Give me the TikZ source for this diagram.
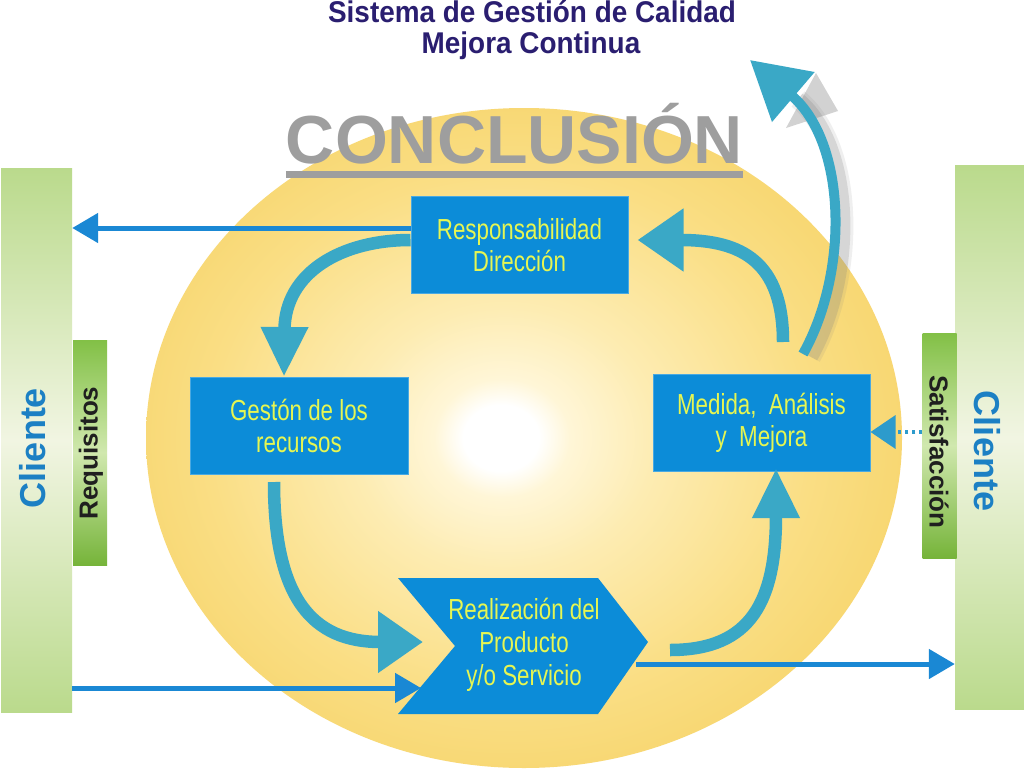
\documentclass[tikz,border=0pt]{standalone}
\usepackage{fontspec}
\setmainfont{Liberation Sans}
\newfontfamily\narrowfont[FakeStretch=0.77]{Liberation Sans}
\newfontfamily\titlefont[FakeStretch=0.93]{Liberation Sans}
\usetikzlibrary{arrows.meta,calc}

\definecolor{boxblue}{RGB}{12,140,216}
\definecolor{txtyellow}{RGB}{230,246,82}
\definecolor{arrteal}{RGB}{58,168,198}
\definecolor{lineblue}{RGB}{26,136,212}
\definecolor{titlenavy}{RGB}{42,30,112}
\definecolor{concgray}{RGB}{158,158,158}
\definecolor{gA}{RGB}{186,218,140}
\definecolor{gB}{RGB}{241,245,226}
\definecolor{rA}{RGB}{130,192,70}
\definecolor{rA2}{RGB}{118,180,58}
\definecolor{rB}{RGB}{208,232,174}
\definecolor{clienteblue}{RGB}{28,128,196}
\definecolor{yA}{RGB}{255,246,215}
\definecolor{yB}{RGB}{253,236,178}
\definecolor{yC}{RGB}{250,222,132}
\definecolor{yD}{RGB}{245,208,96}
\definecolor{yE}{RGB}{240,198,76}
\definecolor{yF}{RGB}{236,190,62}

\pgfdeclareradialshading{sunglow}{\pgfpoint{-1.6bp}{0bp}}{%
  color(0bp)=(white); color(2.5bp)=(white); color(4.5bp)=(yA);
  color(10bp)=(yB); color(20bp)=(yC); color(32bp)=(yD); color(42bp)=(yE); color(50bp)=(yF)}

\tikzset{
  bluebox/.style={fill=boxblue, draw=boxblue!75!white, line width=1pt,
    text=txtyellow, font=\narrowfont\fontsize{29}{32}\selectfont,
    align=center, inner sep=0pt, minimum width=217pt, minimum height=97pt},
  chevtext/.style={text=txtyellow, font=\narrowfont\fontsize{29}{33}\selectfont,
    align=center, inner sep=0pt},
  tealarrow/.style={draw=arrteal, line width=12.5pt},
  bluearrow/.style={draw=lineblue, line width=5pt,
    -{Triangle[length=26pt,width=29pt]}},
  dotarrow/.style={draw=arrteal!60!lineblue, line width=3.5pt, dash pattern=on 3pt off 4pt,
    -{Triangle[length=25pt,width=33pt]}},
  bigbar/.style={minimum width=71pt, minimum height=544pt, inner sep=0pt,
    top color=gA, bottom color=gA, middle color=gB},
  smallbar/.style={minimum width=34pt, minimum height=225pt, inner sep=0pt,
    top color=rA, bottom color=rA2, middle color=rB},
  clitext/.style={text=clienteblue, font=\bfseries\fontsize{36}{36}\selectfont, inner sep=0pt},
  bartext/.style={text=black!88, font=\bfseries\fontsize{26}{26}\selectfont, inner sep=0pt},
  titletext/.style={anchor=base, text=titlenavy, font=\titlefont\bfseries\fontsize{30}{30}\selectfont, inner sep=0pt},
}

\begin{document}
\begin{tikzpicture}[x=1pt, y=-1pt]
\useasboundingbox (0,0) rectangle (1024,768);
\fill[white] (0,0) rectangle (1024,768);

% sun ellipse
\shade[shading=sunglow] (524,438) ellipse [x radius=378pt, y radius=330pt];

% side bars
\node[bigbar] (cliL) at (36.5,440) {};
\node[smallbar] (req) at (90,452.5) {};
\node[bigbar, minimum width=69pt] (cliR) at (989.5,437.5) {};
\node[smallbar] (sat) at (939.5,445.5) {};
\node[clitext, rotate=90] (cliLt) at (33,448) {Cliente};
\node[bartext, rotate=90] (reqt) at (91,453) {Requisitos};
\node[clitext, rotate=-90] (cliRt) at (987,451) {Cliente};
\node[bartext, rotate=-90] (satt) at (939,452) {Satisfacción};

% titles
\node[titletext] (t1) at (532,23) {Sistema de Gestión de Calidad};
\node[titletext] (t2) at (531,54) {Mejora Continua};
\node[anchor=base, text=concgray, font=\bfseries\fontsize{68}{68}\selectfont, inner sep=0pt] (conc) at (514.5,163) {CONCLUSIÓN};
\draw[concgray, line width=7pt] ($(conc.base west)+(0,11)$) -- ($(conc.base east)+(0,11)$);

% process boxes
\node[bluebox] (resp) at (519.5,245) {Responsabilidad\\Dirección};
\node[bluebox, minimum width=218pt] (gest) at (299,426) {Gestón de los\\recursos};
\node[bluebox] (med) at (761.5,423) {Medida,~ Análisis\\y~ Mejora};
\fill[boxblue] (398,578) coordinate (rtl) -- (598,578) -- (648,642) coordinate (rtip)
  -- (598,714) -- (398,714) coordinate (rbl) -- (455,646) coordinate (rnotch) -- cycle;
\node[chevtext] (real) at (524,645) {Realización del\\Producto\\y/o Servicio};

% straight blue connectors
\coordinate (la) at ($(resp.west)+(0,-17)$);
\draw[bluearrow] (la) -- (la -| cliL.east);
\coordinate (lowin) at (421,688);
\draw[bluearrow] (lowin -| cliL.east) -- (lowin);
\coordinate (outr) at (636,664);
\draw[bluearrow] (outr) -- (outr -| cliR.west);
\coordinate (dotm) at ($(med.east)+(0,9)$);
\draw[dotarrow] (dotm -| sat.west) -- (dotm);

% teal cycle arrows
\draw[tealarrow, -{Triangle[length=50pt,width=44pt]}]
  ($(resp.west)+(0,-5)$) .. controls (342,240) and (285,272) .. ($(gest.north)+(-15,0)$);
\coordinate (notchtip) at (423,642);
\draw[tealarrow, -{Triangle[length=45pt,width=59pt]}]
  ($(gest.south)+(-25,7)$) .. controls (274,598) and (312,642) .. (notchtip);
\draw[tealarrow, -{Triangle[length=50pt,width=44pt]}]
  (670,650) .. controls (752,650) and (776,600) .. ($(med.south)+(14.5,-4)$);
\draw[tealarrow, -{Triangle[length=46pt,width=60pt]}]
  ($(med.north)+(21.5,-32)$) .. controls (783,262) and (742,240) .. ($(resp.east)+(9,-5)$);

% big improvement arrow with soft shadow
\coordinate (mejtip) at (750,60);
\coordinate (mejstart) at ($(med.north)+(41.5,-20)$);
\begin{scope}[transform canvas={shift={(8,3)}}]
  \draw[gray, opacity=0.12, line width=20pt] (mejstart) .. controls (850,270) and (846,142) .. (790,96);
  \draw[gray, opacity=0.22, line width=14pt] (mejstart) .. controls (850,270) and (846,142) .. (790,96);
  \fill[gray, opacity=0.35] (808,70) -- (778,125) -- (830,108) -- cycle;
\end{scope}
\draw[draw=arrteal, line width=10pt, -{Triangle[length=57pt,width=63pt]}]
  (mejstart) .. controls (850,270) and (846,142) .. (mejtip);
\end{tikzpicture}
\end{document}
